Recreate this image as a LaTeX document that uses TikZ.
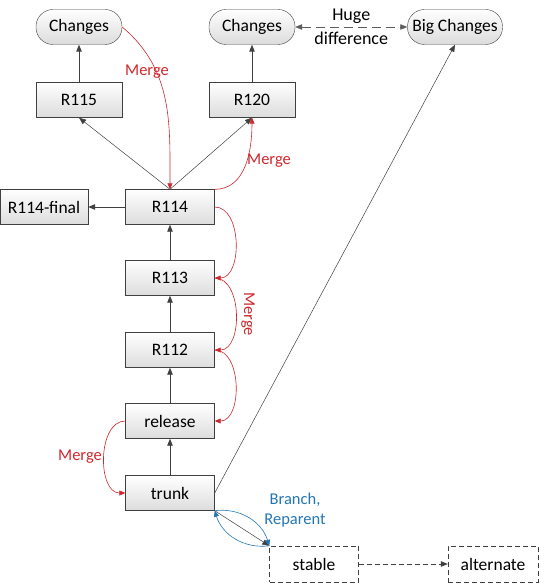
\documentclass[tikz,border=0pt]{standalone}
\usepackage{fontspec}
\setmainfont{Carlito}
\usetikzlibrary{positioning, arrows.meta, shapes}

\definecolor{edgegray}{RGB}{64,64,64}
\definecolor{mergered}{RGB}{205,40,45}
\definecolor{branchblue}{RGB}{35,118,180}
\definecolor{boxbottom}{RGB}{220,220,220}

\begin{document}
\begin{tikzpicture}[
    x=1pt, y=-1pt,
    box_style/.style={rectangle, draw=edgegray, top color=white, bottom color=boxbottom, minimum width=89pt, minimum height=35pt, inner sep=2pt, font=\fontsize{17.5}{20}\selectfont},
    change_style/.style={box_style, rounded corners=17pt, minimum width=86pt},
    dash_style/.style={rectangle, draw=edgegray, dash pattern=on 5pt off 3pt, fill=white, minimum width=89pt, minimum height=36pt, font=\fontsize{17.5}{20}\selectfont},
    edge_style/.style={edgegray, line width=0.9pt, -{Triangle[length=7pt, width=5.5pt]}},
    thin_edge/.style={edge_style, line width=0.5pt},
    merge_style/.style={mergered, line width=0.6pt, -{Triangle[length=6pt, width=5pt]}},
    merge_label/.style={mergered, font=\fontsize{16.5}{19}\selectfont},
    branch_style/.style={branchblue, line width=0.6pt, -{Triangle[length=6pt, width=5pt]}}
]
    \useasboundingbox (0,0) rectangle (540,585);

    % Nodes
    \node[change_style] (chg1) at (79,27) {Changes};
    \node[change_style] (chg2) at (252,27) {Changes};
    \node[change_style, minimum width=95pt] (bigchg) at (455,27) {Big Changes};
    \node[box_style, minimum width=86pt] (r115) at (79,100) {R115};
    \node[box_style, minimum width=86pt] (r120) at (252,100) {R120};
    \node[box_style, minimum width=88pt] (r114f) at (44,207) {R114-final};
    \node[box_style] (r114) at (170,207) {R114};
    \node[box_style] (r113) at (170,278) {R113};
    \node[box_style] (r112) at (170,350) {R112};
    \node[box_style] (release) at (170,421) {release};
    \node[box_style] (trunk) at (170,493) {trunk};
    \node[dash_style] (stable) at (314,564) {stable};
    \node[dash_style, minimum width=90pt] (alternate) at (493,564) {alternate};

    % Edges
    \draw[edge_style] (r115) -- (chg1);
    \draw[edge_style] (r120) -- (chg2);
    \draw[thin_edge] (r114.north) -- (r115.south);
    \draw[thin_edge] (r114.north) -- (r120.south);
    \draw[edge_style] (r114) -- (r114f);
    \draw[edge_style] (r113) -- (r114);
    \draw[edge_style] (r112) -- (r113);
    \draw[edge_style] (release) -- (r112);
    \draw[edge_style] (trunk) -- (release);
    \draw[thin_edge] (trunk.east) -- (bigchg.south);
    \draw[thin_edge] (trunk.south east) -- (stable.north west);
    \draw[edge_style, line width=0.7pt, dash pattern=on 5pt off 3pt] (stable) -- (alternate);
    \draw[thin_edge, {Triangle[length=7pt, width=5.5pt]}-{Triangle[length=7pt, width=5.5pt]}, dash pattern=on 9pt off 5pt, edgegray!85]
        (chg2) -- (bigchg) node[midway, align=center, inner sep=0pt, text=black,
        font=\fontsize{18}{24}\selectfont] (huge) {Huge\\difference};

    % Merges
    \draw[merge_style] (chg1.east) to[out=-40, in=90] (r114.north);
    \draw[merge_style] (r114.north east) to[out=0, in=-90] (r120.south);
    \draw[merge_style] (r114.east) to[out=0, in=0] (r113.east);
    \draw[merge_style] (r113.east) to[out=0, in=0] (r112.east);
    \draw[merge_style] (r112.east) to[out=0, in=0] (release.east);
    \draw[merge_style] (release.west) to[out=180, in=180] (trunk.west);
    \node[merge_label] (m1) at (147,72) {Merge};
    \node[merge_label] (m2) at (269,161) {Merge};
    \node[merge_label, rotate=-90] (m3) at (248,314) {Merge};
    \node[merge_label] (m4) at (80,457) {Merge};

    % Branch and reparent
    \draw[branch_style] (trunk.south east) to[bend left=40] (stable.north west);
    \draw[branch_style] (stable.north west) to[bend left=40] (trunk.south east);
    \node[branchblue, align=center, font=\fontsize{16.5}{20}\selectfont] (branch) at (295,510) {Branch,\\Reparent};
\end{tikzpicture}
\end{document}
